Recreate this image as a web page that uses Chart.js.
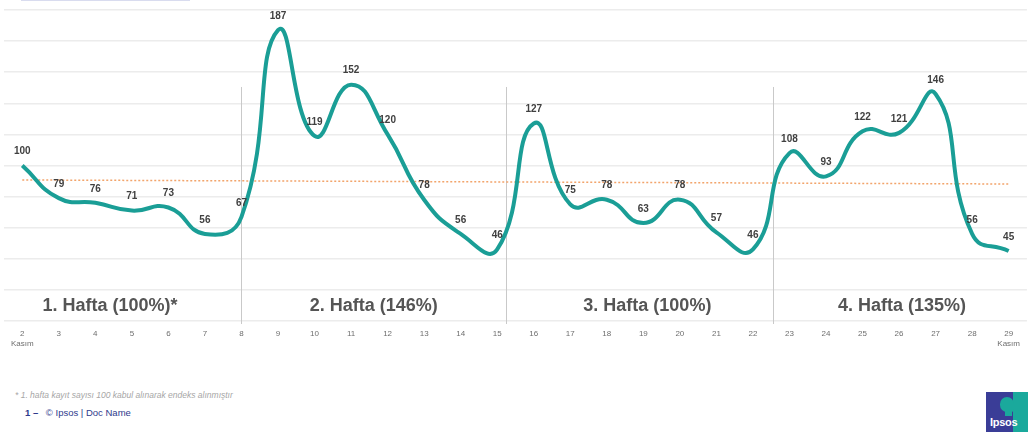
<!DOCTYPE html>
<html lang="tr">
<head>
<meta charset="utf-8">
<title>Kasım kayıt endeksi</title>
<script src="https://cdn.jsdelivr.net/npm/chart.js@4.4.1/dist/chart.umd.min.js"></script>
<style>
  html, body { margin: 0; padding: 0; background: #ffffff; }
  body { width: 1028px; height: 432px; position: relative; overflow: hidden; font-family: "Liberation Sans", Arial, sans-serif; }
  #chart { position: absolute; left: 0; top: 0; }
  .topbox { position: absolute; left: 21px; top: -6px; width: 167px; height: 6px; border: 1px solid #d9dcef; border-top: none; }
  .note { position: absolute; left: 15px; top: 390px; font-size: 8.5px; font-style: italic; color: #a6a6a6; white-space: nowrap; }
  .doc { position: absolute; left: 25px; top: 407px; font-size: 9.5px; color: #2e3a8c; white-space: nowrap; }
  .doc b { margin-right: 5px; }
  .logo { position: absolute; left: 986px; top: 392px; width: 42px; height: 40px; background: #3a3d97; overflow: hidden; }
  .logo .teal { position: absolute; left: 27px; top: 0; width: 15px; height: 40px; background: #1aa99c; }
  .logo .head { position: absolute; left: 14px; top: 5px; width: 14px; height: 15px; border-radius: 7px 7px 3px 7px; background: #1aa99c; }
  .logo .neck { position: absolute; left: 19px; top: 18px; width: 7px; height: 6px; background: #1aa99c; }
  .logo span { position: absolute; left: 4px; bottom: 4px; font-size: 11px; font-weight: bold; color: #ffffff; letter-spacing: -0.3px; }
</style>
</head>
<body>
<div class="topbox"></div>
<canvas id="chart" width="1028" height="360"></canvas>
<div class="note">* 1. hafta kayıt sayısı 100 kabul alınarak endeks alınmıştır</div>
<div class="doc"><b>1 –</b> © Ipsos | Doc Name</div>
<div class="logo"><div class="teal"></div><div class="head"></div><div class="neck"></div><span>Ipsos</span></div>
<script>
// Days of November (Kasım), first and last carry the month name
const dayLabels = [['2', 'Kasım'], '3', '4', '5', '6', '7', '8', '9', '10', '11', '12', '13', '14', '15',
  '16', '17', '18', '19', '20', '21', '22', '23', '24', '25', '26', '27', '28', ['29', 'Kasım']];

// Daily registration index (week 1 = 100)
const indexValues = [100, 79, 76, 71, 73, 56, 67, 187, 119, 152, 120, 78, 56, 46,
  127, 75, 78, 63, 78, 57, 46, 108, 93, 122, 121, 146, 56, 45];

// Linear trend: value at first and last day
const trendEnds = [90.7, 88.1];

// Weekly titles with weekly index
const weekTitles = ['1. Hafta (100%)*', '2. Hafta (146%)', '3. Hafta (100%)', '4. Hafta (135%)'];

// y-axis range and grid step
const yMin = 0, yMax = 200, yStep = 20;

const FONT = '"Liberation Sans", Arial, sans-serif';
const lastIdx = indexValues.length - 1;
const trendData = indexValues.map((_, i) => i === 0 ? trendEnds[0] : (i === lastIdx ? trendEnds[1] : null));

// Week separators and week titles drawn under the lines
const weekPlugin = {
  id: 'weeks',
  beforeDatasetsDraw(chart, args, opts) {
    const { ctx, chartArea, scales: { x, y } } = chart;
    const step = x.getPixelForValue(1) - x.getPixelForValue(0);
    const px = (f) => x.getPixelForValue(0) + f * step;
    ctx.save();
    ctx.strokeStyle = '#c9c9c9';
    ctx.lineWidth = 1;
    const top = y.getPixelForValue(opts.separatorTop);
    opts.separators.forEach((f) => {
      const xx = Math.round(px(f)) + 0.5;
      ctx.beginPath();
      ctx.moveTo(xx, top);
      ctx.lineTo(xx, chartArea.bottom + 3);
      ctx.stroke();
    });
    ctx.fillStyle = '#555555';
    ctx.font = 'bold 18px ' + FONT;
    ctx.textAlign = 'center';
    ctx.textBaseline = 'middle';
    weekTitles.forEach((t, i) => {
      ctx.fillText(t, px(opts.titleAt[i]), chartArea.bottom - 15);
    });
    ctx.restore();
  }
};

// Value labels above each point of the index line
const valueLabelPlugin = {
  id: 'valueLabels',
  afterDatasetsDraw(chart) {
    const { ctx } = chart;
    const meta = chart.getDatasetMeta(0);
    ctx.save();
    ctx.fillStyle = '#404040';
    ctx.font = 'bold 10px ' + FONT;
    ctx.textAlign = 'center';
    ctx.textBaseline = 'middle';
    meta.data.forEach((pt, i) => {
      ctx.fillText(String(indexValues[i]), pt.x, pt.y - 14);
    });
    ctx.restore();
  }
};

new Chart(document.getElementById('chart'), {
  type: 'line',
  data: {
    labels: dayLabels,
    datasets: [
      {
        data: indexValues,
        borderColor: '#1a9e96',
        borderWidth: 4,
        tension: 0.5,
        pointRadius: 0,
        fill: false,
        order: 1
      },
      {
        data: trendData,
        spanGaps: true,
        borderColor: '#f2a46b',
        borderWidth: 1.5,
        borderDash: [2, 2],
        pointRadius: 0,
        fill: false,
        order: 2
      }
    ]
  },
  options: {
    responsive: false,
    devicePixelRatio: 1,
    animation: false,
    layout: { padding: { top: 10, left: 4, right: 0, bottom: 0 } },
    plugins: {
      legend: { display: false },
      tooltip: { enabled: false },
      weeks: { separators: [5.98, 13.25, 20.56], separatorTop: 150.5, titleAt: [2.4, 9.62, 17.11, 24.08] }
    },
    scales: {
      x: {
        offset: true,
        grid: { display: false, drawTicks: false },
        border: { display: false },
        ticks: {
          color: '#6e6e6e',
          font: { family: FONT, size: 8 },
          padding: 8,
          autoSkip: false,
          maxRotation: 0
        },
        afterFit(scale) { scale.height = 39; }
      },
      y: {
        min: yMin,
        max: yMax,
        ticks: { display: false, stepSize: yStep },
        grid: { color: '#ececec', lineWidth: 1.5, drawTicks: false },
        border: { display: false },
        afterFit(scale) { scale.width = 0; }
      }
    }
  },
  plugins: [weekPlugin, valueLabelPlugin]
});
</script>
</body>
</html>
